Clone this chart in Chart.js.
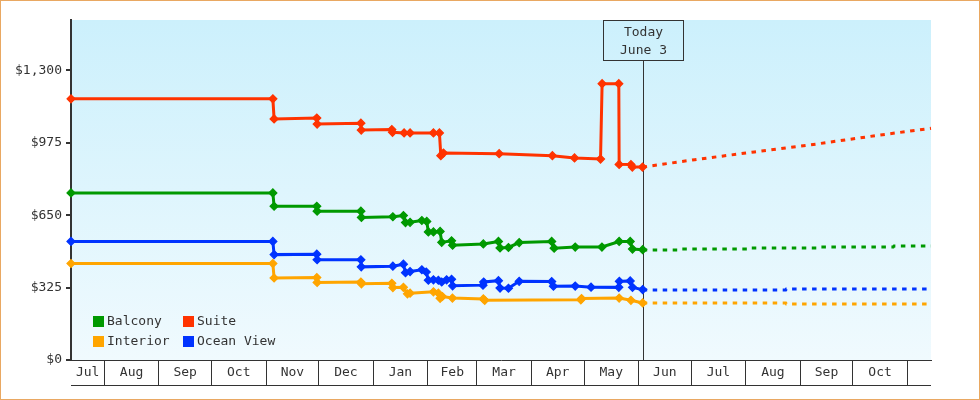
<!DOCTYPE html>
<html><head><meta charset="utf-8">
<script src="https://cdn.jsdelivr.net/npm/chart.js@4"></script>
<style>
html,body{margin:0;padding:0;background:#fff;}
canvas{display:block;}
</style></head><body>
<canvas id="c" width="980" height="400"></canvas>
<script>
// ---- axis data (x = days counted from Jul 1 of the first year) ----
const monthLabels = ['Jul','Aug','Sep','Oct','Nov','Dec','Jan','Feb','Mar','Apr','May','Jun','Jul','Aug','Sep','Oct'];
const monthStarts = [31,62,92,123,153,184,215,243,274,304,335,365,396,427,457,488];
const rangeStart = 12;
const rangeEnd = 501.5;
const todayDay = 337.3;
const todayLines = ['Today','June 3'];
const yTicks = [0,325,650,975,1300];
const yMax = 1526;

// ---- series: observed prices ----
const balconyDays   = [12,126.9,127.6,151.9,152.1,177.0,177.3,195.2,201.2,202.4,205.0,211.7,214.5,215.4,218.3,222.1,223.0,228.6,229.2,246.7,255.3,256.2,261.0,267.1,285.6,287.0,299.0,314.2,324.0,330.3,331.6,337.4];
const balconyPrices = [750,750,690,690,668,668,640,643,648,617,618,626,622,575,575,577,528,535,515,521,532,503,505,527,532,502,507,507,532,532,498,495];

const suiteDays   = [12,126.9,127.6,151.9,152.1,177.0,177.2,194.6,195.0,201.6,205.0,218.3,221.7,222.5,224.0,255.7,286.0,298.6,313.4,314.3,323.8,324.0,330.7,331.5,337.3];
const suitePrices = [1172,1172,1082,1086,1059,1063,1032,1034,1022,1019,1019,1019,1019,917,929,926,917,907,902,1240,1240,878,877,866,866];

const interiorDays   = [12,126.9,127.6,151.9,152.1,177.0,177.3,194.6,195.2,201.2,203.5,205.0,218.3,221.1,222.1,223.4,229.1,246.7,247.5,302.2,302.6,324.0,330.7,337.4];
const interiorPrices = [433,433,368,370,348,350,342,344,325,326,297,300,306,300,277,285,278,274,268,270,276,278,268,256];

const oceanDays   = [12,126.9,127.6,151.9,152.1,177.0,177.2,195.2,201.2,202.4,205.0,211.7,214.2,215.4,218.3,221.1,223.0,225.8,228.6,229.2,246.5,246.9,255.3,256.2,261.0,267.1,285.6,286.6,299.0,308.0,323.8,324.1,330.3,331.6,337.4];
const oceanPrices = [532,532,473,475,450,450,418,421,430,392,397,405,395,358,360,358,350,360,362,333,336,350,356,323,322,353,352,331,332,327,326,353,355,326,316];

// ---- series: forecast (dashed) ----
const balconyForecastDays   = [337.4,358.5,359.0,398.5,399.0,438.3,438.8,480.0,480.5,501.5];
const balconyForecastPrices = [494,494,498,498,503,503,507,507,512,512];
const suiteForecastDays     = [337.3,367,401,436,470,501.5];
const suiteForecastPrices   = [866,899,934,969,1007,1040];
const interiorForecastDays  = [337.4,418.8,419.2,501.5];
const interiorForecastPrices= [256,256,251,251];
const oceanForecastDays     = [337.4,418.8,419.2,501.5];
const oceanForecastPrices   = [314,314,319,319];

const seriesNames  = ['Balcony','Suite','Interior','Ocean View'];
const seriesColors = ['#009900','#ff3300','#ffa500','#0033ff'];

const FONT = 'DejaVu Sans Mono';
const TEXT = '#333333';

function pts(days, vals){ return days.map((d,i)=>({x:d,y:vals[i]})); }

const observed = [[balconyDays,balconyPrices],[suiteDays,suitePrices],[interiorDays,interiorPrices],[oceanDays,oceanPrices]];
const forecast = [[balconyForecastDays,balconyForecastPrices],[suiteForecastDays,suiteForecastPrices],[interiorForecastDays,interiorForecastPrices],[oceanForecastDays,oceanForecastPrices]];

const datasets = [];
observed.forEach((s,i)=>{
  datasets.push({label:seriesNames[i], data:pts(s[0],s[1]), borderColor:seriesColors[i], backgroundColor:seriesColors[i],
    borderWidth:3, pointStyle:'rectRot', pointRadius:4, pointBorderWidth:1.2, pointBackgroundColor:seriesColors[i],
    pointBorderColor:seriesColors[i], tension:0, clip:8});
});
forecast.forEach((s,i)=>{
  datasets.push({label:seriesNames[i]+' forecast', data:pts(s[0],s[1]), borderColor:seriesColors[i],
    borderWidth:3, borderDash:[4.5,5.5], pointRadius:0, tension:0, clip:8});
});

// x ticks: month boundaries (grid lines) + month centres (labels)
const boundarySet = new Set(monthStarts);
const labelMap = new Map();
const boxEdges = [rangeStart].concat(monthStarts);
monthLabels.forEach((m,i)=>{ labelMap.set((boxEdges[i]+boxEdges[i+1])/2, m); });
const xTickValues = monthStarts.concat(Array.from(labelMap.keys())).sort((a,b)=>a-b);

const bgPlugin = {
  id:'bg',
  beforeDraw(chart){
    const {ctx, chartArea:a, width, height} = chart;
    ctx.save();
    ctx.fillStyle='#ffffff'; ctx.fillRect(0,0,width,height);
    const g = ctx.createLinearGradient(0,a.top,0,a.bottom);
    g.addColorStop(0,'#ccf0fc'); g.addColorStop(1,'#f0fafe');
    ctx.fillStyle=g; ctx.fillRect(a.left,a.top,a.right-a.left,a.bottom-a.top);
    ctx.strokeStyle='#e9a862'; ctx.lineWidth=1; ctx.strokeRect(0.5,0.5,width-1,height-1);
    ctx.restore();
  }
};
const todayPlugin = {
  id:'today',
  beforeDatasetsDraw(chart){
    const {ctx, chartArea:a} = chart;
    const x = Math.round(chart.scales.x.getPixelForValue(todayDay)) + 0.5;
    const top = a.top + 0.5, h = 40, w = 80;
    ctx.save();
    ctx.strokeStyle='#333'; ctx.lineWidth=1;
    ctx.beginPath(); ctx.moveTo(x, top+h); ctx.lineTo(x, a.bottom); ctx.stroke();
    ctx.strokeRect(x-w/2, top, w, h);
    ctx.fillStyle=TEXT; ctx.font='13px "'+FONT+'"'; ctx.textAlign='center'; ctx.textBaseline='middle';
    ctx.fillText(todayLines[0], x, top+12);
    ctx.fillText(todayLines[1], x, top+30);
    ctx.restore();
  }
};
const legendPlugin = {
  id:'legendBox',
  afterDatasetsDraw(chart){
    const {ctx, chartArea:a} = chart;
    const cols = [a.left+22, a.left+112];
    const rows = [a.bottom-44, a.bottom-24];
    ctx.save();
    ctx.font='13px "'+FONT+'"'; ctx.textBaseline='middle'; ctx.textAlign='left';
    seriesNames.forEach((n,i)=>{
      const cx = cols[i%2], cy = rows[Math.floor(i/2)];
      ctx.fillStyle=seriesColors[i]; ctx.fillRect(cx, cy, 11, 11);
      ctx.fillStyle=TEXT; ctx.fillText(n, cx+14, cy+6);
    });
    ctx.restore();
  }
};
const boxLinePlugin = {
  id:'boxLine',
  afterDraw(chart){
    const {ctx} = chart; const s = chart.scales.x;
    const y = s.top + 25.5;
    ctx.save(); ctx.strokeStyle='#333'; ctx.lineWidth=1;
    ctx.beginPath(); ctx.moveTo(s.left, y); ctx.lineTo(s.right, y); ctx.stroke();
    ctx.restore();
  }
};

new Chart(document.getElementById('c'), {
  type:'line',
  data:{datasets},
  options:{
    responsive:false, animation:false, devicePixelRatio:1,
    layout:{padding:{top:20,right:49,left:0,bottom:0}},
    plugins:{legend:{display:false}, tooltip:{enabled:false}},
    scales:{
      x:{type:'linear', min:rangeStart, max:rangeEnd,
        afterBuildTicks:(s)=>{ s.ticks = xTickValues.map(v=>({value:v})); },
        afterFit:(s)=>{ s.height = 40; },
        ticks:{autoSkip:false, maxRotation:0, minRotation:0, padding:-20, color:TEXT,
          font:{family:FONT, size:13},
          callback:(v)=> labelMap.has(v) ? labelMap.get(v) : ''},
        grid:{drawOnChartArea:false, tickLength:25, lineWidth:1,
          color:(c)=> (c.tick && boundarySet.has(c.tick.value)) ? '#333' : 'rgba(0,0,0,0)'},
        border:{display:true, color:'#333', width:1}
      },
      y:{type:'linear', min:0, max:yMax,
        afterBuildTicks:(s)=>{ s.ticks = yTicks.map(v=>({value:v})); },
        afterFit:(s)=>{ s.width = 71; },
        ticks:{padding:4, color:TEXT, font:{family:FONT, size:13},
          callback:(v)=> '$' + Number(v).toLocaleString('en-US')},
        grid:{drawOnChartArea:false, tickLength:5, lineWidth:2, color:'#333'},
        border:{display:true, color:'#333', width:2}
      }
    }
  },
  plugins:[bgPlugin, todayPlugin, legendPlugin, boxLinePlugin]
});
</script>
</body></html>
